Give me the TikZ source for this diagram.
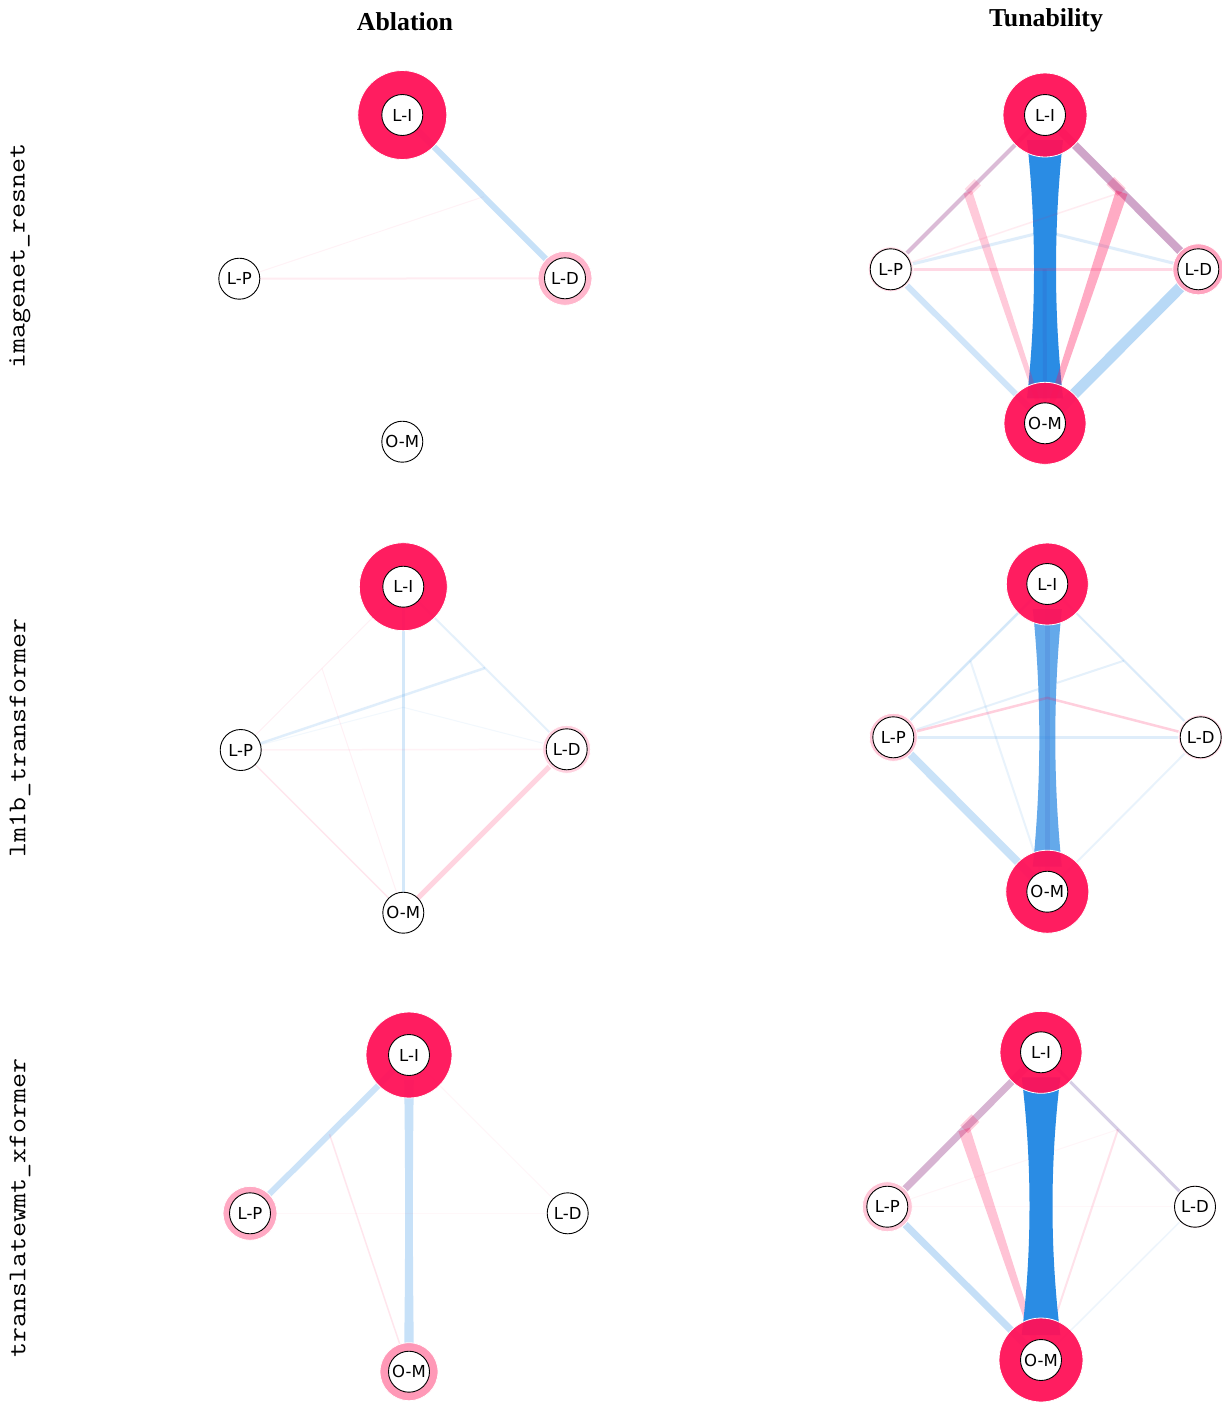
\documentclass[tikz,border=0pt]{standalone}
\usepackage{fontspec}
\setmainfont{Liberation Serif}
\newfontfamily\lblfont{DejaVu Sans}
\usetikzlibrary{calc}
\pgfdeclarelayer{edges}
\pgfdeclarelayer{rings}
\pgfsetlayers{edges,rings,main}
\definecolor{crim}{HTML}{FF1158}
\definecolor{bl}{HTML}{2A8CE4}
\definecolor{blmid}{HTML}{64A9EA}
\definecolor{mauve}{HTML}{B06AA6}
\definecolor{lilac}{HTML}{8A76B8}
\definecolor{navy}{HTML}{3050C0}
\tikzset{
 lbl/.style={circle, draw=black, line width=0.9pt, fill=white, minimum size=41pt, inner sep=0pt, font=\lblfont\fontsize{16.5}{16.5}\selectfont},
 ring/.style 2 args={circle, fill=#2, fill opacity=0.95, draw=white, line width=0.8pt, minimum size=#1, inner sep=0pt},
 titletext/.style={font=\bfseries\fontsize{25.8}{26}\selectfont},
 rowlbl/.style={font=\ttfamily\fontsize{25.5}{25.5}\selectfont, rotate=90},
 eb/.style 2 args={draw=bl, draw opacity=#1, line width=#2},
 ep/.style 2 args={draw=crim, draw opacity=#1, line width=#2},
 em/.style 2 args={draw=mauve, draw opacity=#1, line width=#2},
}
\newcommand\wedgeE[5]{\fill[#5] ($(#1)!#3!90:(#2)$) -- ($(#2)!#4!-90:(#1)$) -- ($(#2)!#4!90:(#1)$) -- ($(#1)!#3!-90:(#2)$) -- cycle;}
\newcommand\hourglass[6]{\fill[#6] ($(#1)+(-#4,#3)$) .. controls ($(#1)!0.36!(#2)+(-#5,0)$) and ($(#1)!0.64!(#2)+(-#5,0)$) .. ($(#2)+(-#4,-#3)$) -- ($(#2)+(#4,-#3)$) .. controls ($(#1)!0.64!(#2)+(#5,0)$) and ($(#1)!0.36!(#2)+(#5,0)$) .. ($(#1)+(#4,#3)$) -- cycle;}
\newcommand\rowtext[1]{\scalebox{1.14}[1]{#1}}
\begin{document}
\begin{tikzpicture}[x=1pt,y=-1pt]
\useasboundingbox (0,0) rectangle (1221,1403);
\begin{pgfonlayer}{edges}
\fill[white] (0,0) rectangle (1221,1403);
\end{pgfonlayer}

% titles
\node[titletext] (t1) at (405,22) {Ablation};
\node[titletext] (t2) at (1046,20) {Tunability};
\node[rowlbl] (r1) at (20,256) {\rowtext{imagenet\_resnet}};
\node[rowlbl] (r2) at (20,738) {\rowtext{lm1b\_transformer}};
\node[rowlbl] (r3) at (20,1208) {\rowtext{translatewmt\_xformer}};

% ---------- Panel A ----------
\node[lbl] (A-LI) at (402.3,115) {L-I};
\node[lbl] (A-LP) at (239.3,278.7) {L-P};
\node[lbl] (A-LD) at (565,278.3) {L-D};
\node[lbl] (A-OM) at (402.3,441.7) {O-M};
\coordinate (A-mILD) at ($(A-LI)!0.5!(A-LD)$);
\begin{pgfonlayer}{rings}
\node[ring={89pt}{crim}] (A-LIr) at (A-LI) {};
\node[ring={54pt}{crim!32}] (A-LDr) at (A-LD) {};
\end{pgfonlayer}
\begin{pgfonlayer}{edges}
\draw[eb={0.26}{6pt}] (A-LI.center) -- (A-LD.center);
\draw[ep={0.08}{2pt}] (A-LP.center) -- (A-LD.center);
\draw[ep={0.05}{1pt}] (A-LP.center) -- (A-mILD);
\end{pgfonlayer}

% ---------- Panel B ----------
\node[lbl] (B-LI) at (1045,115) {L-I};
\node[lbl] (B-LP) at (890.7,269.3) {L-P};
\node[lbl] (B-LD) at (1198.3,269.3) {L-D};
\node[lbl] (B-OM) at (1045,423.3) {O-M};
\coordinate (B-mILD) at ($(B-LI)!0.5!(B-LD)$);
\coordinate (B-mILP) at ($(B-LI)!0.5!(B-LP)$);
\coordinate (B-mPD) at ($(B-LP)!0.5!(B-LD)$);
\coordinate (B-x) at ($(B-LI)!0.378!(B-OM)$);
\begin{pgfonlayer}{rings}
\node[ring={84pt}{crim}] (B-LIr) at (B-LI) {};
\node[ring={45pt}{crim!17}] (B-LPr) at (B-LP) {};
\node[ring={51pt}{crim!40}] (B-LDr) at (B-LD) {};
\node[ring={82pt}{crim}] (B-OMr) at (B-OM) {};
\end{pgfonlayer}
\begin{pgfonlayer}{edges}
\draw[eb={0.22}{6pt}] (B-LP.center) -- (B-OM.center);
\draw[eb={0.33}{11pt}] (B-LD.center) -- (B-OM.center);
\draw[em={0.45}{4pt}] (B-LI.center) -- (B-LP.center);
\draw[em={0.6}{8pt}] (B-LI.center) -- (B-LD.center);
\hourglass{B-LI}{B-OM}{25}{18}{8.67}{bl}
\draw[draw=navy, draw opacity=0.18, line width=4pt] (B-mPD) -- (B-OM.center);
\draw[eb={0.15}{3pt}] (B-LP.center) -- (B-x) -- (B-LD.center);
\draw[ep={0.08}{1.5pt}] (B-LP.center) -- (B-mILD);
\draw[ep={0.16}{3pt}] (B-LP.center) -- (B-LD.center);
\wedgeE{B-mILD}{B-OM}{6pt}{2.5pt}{crim, fill opacity=0.35}
\wedgeE{B-mILP}{B-OM}{4.5pt}{2pt}{crim, fill opacity=0.22}
\draw[ep={0.2}{11pt}] (B-mILD) -- ($(B-mILD)!16pt!(B-LI)$);
\draw[ep={0.15}{9pt}] (B-mILP) -- ($(B-mILP)!14pt!(B-LI)$);
\end{pgfonlayer}

% ---------- Panel C ----------
\node[lbl] (C-LI) at (403.3,586.7) {L-I};
\node[lbl] (C-LP) at (240.7,750) {L-P};
\node[lbl] (C-LD) at (566.7,749.3) {L-D};
\node[lbl] (C-OM) at (403.3,912.7) {O-M};
\coordinate (C-mILD) at ($(C-LI)!0.5!(C-LD)$);
\coordinate (C-mILP) at ($(C-LI)!0.5!(C-LP)$);
\coordinate (C-x) at ($(C-LI)!0.37!(C-OM)$);
\begin{pgfonlayer}{rings}
\node[ring={88pt}{crim}] (C-LIr) at (C-LI) {};
\node[ring={48pt}{crim!20}] (C-LDr) at (C-LD) {};
\end{pgfonlayer}
\begin{pgfonlayer}{edges}
\draw[eb={0.2}{3.5pt}] (C-LI.center) -- (C-OM.center);
\draw[ep={0.18}{5pt}] (C-LD.center) -- (C-OM.center);
\draw[eb={0.12}{2pt}] (C-LI.center) -- (C-LD.center);
\draw[eb={0.14}{2.5pt}] (C-LP.center) -- (C-mILD);
\draw[ep={0.1}{1.5pt}] (C-LP.center) -- (C-OM.center);
\draw[ep={0.05}{1.5pt}] (C-LP.center) -- (C-LD.center);
\draw[ep={0.06}{1pt}] (C-LI.center) -- (C-LP.center);
\draw[ep={0.06}{1pt}] (C-mILP) -- (C-OM.center);
\draw[eb={0.06}{1pt}] (C-LP.center) -- (C-x) -- (C-LD.center);
\end{pgfonlayer}

% ---------- Panel D ----------
\node[lbl] (D-LI) at (1047.3,584) {L-I};
\node[lbl] (D-LP) at (893.3,737.3) {L-P};
\node[lbl] (D-LD) at (1200.7,737.3) {L-D};
\node[lbl] (D-OM) at (1047.3,891.7) {O-M};
\coordinate (D-mILD) at ($(D-LI)!0.5!(D-LD)$);
\coordinate (D-mILP) at ($(D-LI)!0.5!(D-LP)$);
\coordinate (D-x) at ($(D-LI)!0.37!(D-OM)$);
\begin{pgfonlayer}{rings}
\node[ring={82pt}{crim}] (D-LIr) at (D-LI) {};
\node[ring={48pt}{crim!25}] (D-LPr) at (D-LP) {};
\node[ring={45pt}{crim!18}] (D-LDr) at (D-LD) {};
\node[ring={83pt}{crim}] (D-OMr) at (D-OM) {};
\end{pgfonlayer}
\begin{pgfonlayer}{edges}
\draw[eb={0.25}{8pt}] (D-LP.center) -- (D-OM.center);
\draw[eb={0.2}{2.5pt}] (D-LI.center) -- (D-LP.center);
\draw[eb={0.17}{2pt}] (D-LI.center) -- (D-LD.center);
\draw[eb={0.12}{2pt}] (D-LP.center) -- (D-mILD);
\draw[eb={0.1}{2pt}] (D-mILP) -- (D-OM.center);
\draw[eb={0.1}{2pt}] (D-LD.center) -- (D-OM.center);
\hourglass{D-LI}{D-OM}{25}{14.5}{5.83}{blmid}
\draw[draw=navy, draw opacity=0.15, line width=5pt] (D-LI.center) -- (D-OM.center);
\draw[eb={0.15}{3pt}] (D-LP.center) -- (D-LD.center);
\draw[ep={0.2}{2.5pt}] (D-LP.center) -- (D-x) -- (D-LD.center);
\end{pgfonlayer}

% ---------- Panel E ----------
\node[lbl] (E-LI) at (409,1055) {L-I};
\node[lbl] (E-LP) at (250,1213.3) {L-P};
\node[lbl] (E-LD) at (567.7,1213.3) {L-D};
\node[lbl] (E-OM) at (409,1371.7) {O-M};
\coordinate (E-mILP) at ($(E-LI)!0.5!(E-LP)$);
\begin{pgfonlayer}{rings}
\node[ring={86pt}{crim}] (E-LIr) at (E-LI) {};
\node[ring={54pt}{crim!38}] (E-LPr) at (E-LP) {};
\node[ring={58pt}{crim!45}] (E-OMr) at (E-OM) {};
\end{pgfonlayer}
\begin{pgfonlayer}{edges}
\hourglass{E-LI}{E-OM}{25}{4.8}{3.6}{bl, fill opacity=0.26}
\draw[eb={0.24}{6pt}] (E-LI.center) -- (E-LP.center);
\draw[ep={0.1}{1.5pt}] (E-mILP) -- (E-OM.center);
\draw[ep={0.04}{1pt}] (E-LI.center) -- (E-LD.center);
\draw[ep={0.03}{1pt}] (E-LP.center) -- (E-LD.center);
\end{pgfonlayer}

% ---------- Panel F ----------
\node[lbl] (F-LI) at (1041,1052.3) {L-I};
\node[lbl] (F-LP) at (887.3,1206.7) {L-P};
\node[lbl] (F-LD) at (1195,1206.7) {L-D};
\node[lbl] (F-OM) at (1041,1360) {O-M};
\coordinate (F-mILD) at ($(F-LI)!0.5!(F-LD)$);
\coordinate (F-mILP) at ($(F-LI)!0.5!(F-LP)$);
\begin{pgfonlayer}{rings}
\node[ring={82pt}{crim}] (F-LIr) at (F-LI) {};
\node[ring={50pt}{crim!25}] (F-LPr) at (F-LP) {};
\node[ring={43pt}{crim!15}] (F-LDr) at (F-LD) {};
\node[ring={84pt}{crim}] (F-OMr) at (F-OM) {};
\end{pgfonlayer}
\begin{pgfonlayer}{edges}
\draw[eb={0.27}{7pt}] (F-LP.center) -- (F-OM.center);
\draw[em={0.5}{7pt}] (F-LI.center) -- (F-LP.center);
\draw[draw=lilac, draw opacity=0.35, line width=3pt] (F-LI.center) -- (F-LD.center);
\draw[ep={0.12}{2pt}] (F-mILD) -- (F-OM.center);
\draw[eb={0.08}{1.5pt}] (F-LD.center) -- (F-OM.center);
\draw[ep={0.04}{1pt}] (F-LP.center) -- (F-mILD);
\draw[ep={0.03}{1pt}] (F-LP.center) -- (F-LD.center);
\wedgeE{F-mILP}{F-OM}{6pt}{2.5pt}{crim, fill opacity=0.25}
\draw[ep={0.2}{11pt}] (F-mILP) -- ($(F-mILP)!16pt!(F-LI)$);
\hourglass{F-LI}{F-OM}{25}{19.3}{8.9}{bl}
\end{pgfonlayer}
\end{tikzpicture}
\end{document}
